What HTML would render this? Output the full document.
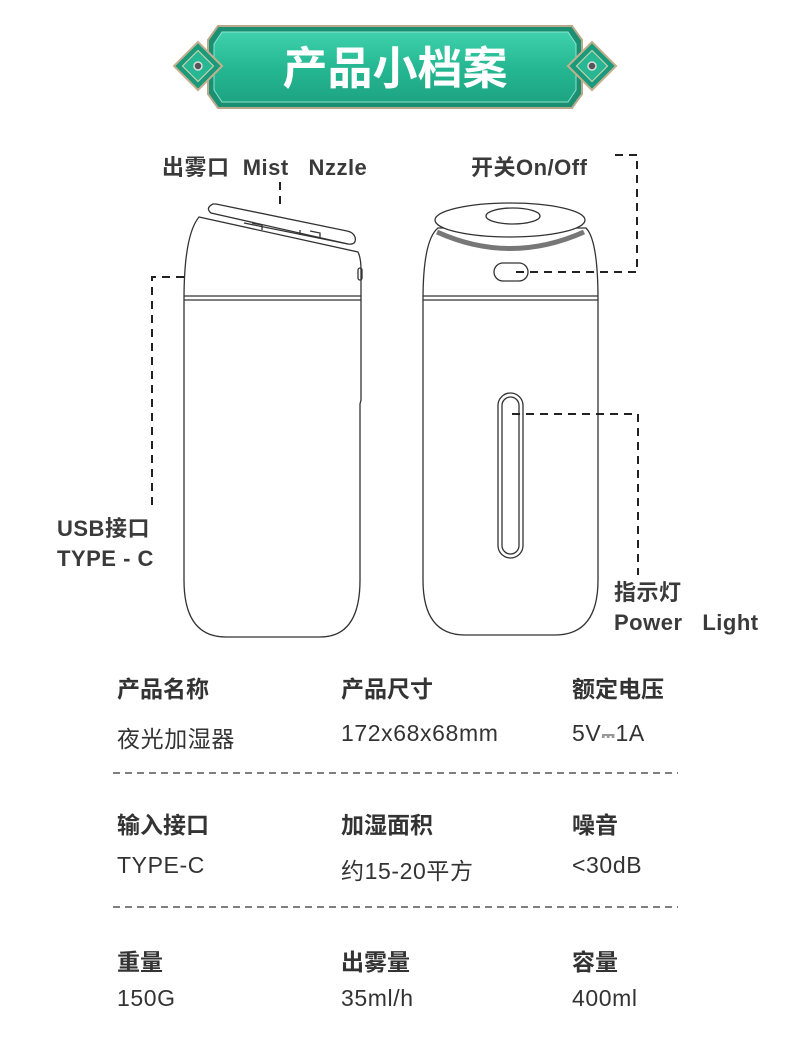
<!DOCTYPE html>
<html><head><meta charset="utf-8"><style>
body{margin:0;background:#fff;}
.wrap{position:relative;width:790px;height:1041px;overflow:hidden;font-family:"Liberation Sans","Noto Sans CJK SC",sans-serif;}
.t{position:absolute;color:#333;white-space:nowrap;}
.b{font-weight:bold;font-size:23px;}
.lab{font-weight:bold;font-size:22px;color:#3a3a3a;letter-spacing:0.5px;}
.v{font-size:23px;color:#333;letter-spacing:0.6px;}
</style></head><body><div class="wrap">
<svg width="790" height="1041" style="position:absolute;left:0;top:0">
<defs><linearGradient id="g" x1="0" y1="0" x2="0" y2="1"><stop offset="0" stop-color="#3fd1ad"/><stop offset="0.5" stop-color="#25b892"/><stop offset="1" stop-color="#1ea482"/></linearGradient></defs>
<path d="M218 26 H572 L582 40 V94 L572 108 H218 L208 94 V40 Z" fill="#1b8f72" stroke="#b9a98a" stroke-width="2"/>
<path d="M222 32 H568 L576 44 V90 L568 102 H222 L214 90 V44 Z" fill="url(#g)" stroke="#8fe3cd" stroke-width="1"/>
<g transform="translate(198,66) rotate(45)"><rect x="-17" y="-17" width="34" height="34" fill="#1a9a7a" stroke="#c4b08f" stroke-width="2"/><rect x="-11" y="-11" width="22" height="22" fill="#27b893" stroke="#e5d5b5" stroke-width="1"/></g>
<circle cx="198" cy="66" r="4" fill="#555" stroke="#ddd" stroke-width="1.5"/>
<g transform="translate(592,66) rotate(45)"><rect x="-17" y="-17" width="34" height="34" fill="#1a9a7a" stroke="#c4b08f" stroke-width="2"/><rect x="-11" y="-11" width="22" height="22" fill="#27b893" stroke="#e5d5b5" stroke-width="1"/></g>
<circle cx="592" cy="66" r="4" fill="#555" stroke="#ddd" stroke-width="1.5"/>
<text x="395" y="84" text-anchor="middle" font-family="Liberation Sans,Noto Sans CJK SC,sans-serif" font-size="45" font-weight="bold" fill="#fff">产品小档案</text>

<g fill="none" stroke="#333" stroke-width="1.3">
<path d="M199 217 L358 252 Q361 258 361 270 V400 L360 404 V580 Q360 637 320 637 H226 Q184 637 184 580 V300 Q184 235 199 217 Z" fill="#fff"/>
<line x1="184" y1="296" x2="361" y2="296"/>
<line x1="184" y1="300" x2="361" y2="300"/>
<rect x="358" y="268" width="4" height="12" rx="2"/>
<path d="M213 204 Q205 208 211 213 L348 244 Q357 245 355 237 Q353 232 347 231 L216 204 Z" fill="#fff"/>
<path d="M244 223 L348 244 M252 223 L262 225 V230 M300 230 V235 M310 231 L320 233 V237"/>
<path d="M438 228 H586 Q598 240 598 300 V580 Q598 635 555 635 H465 Q423 635 423 580 V300 Q423 240 438 228 Z" fill="#fff"/>
<line x1="423" y1="296" x2="598" y2="296"/>
<line x1="423" y1="300" x2="598" y2="300"/>
<path d="M437 232 Q510 265 584 232" stroke="#777" stroke-width="5"/>
<ellipse cx="510" cy="220" rx="75" ry="17" fill="#fff"/>
<ellipse cx="513" cy="216" rx="27" ry="8"/>
<rect x="494" y="263" width="34" height="18" rx="9"/>
<rect x="498" y="393" width="25" height="165" rx="12.5"/>
<rect x="502" y="397" width="17" height="157" rx="8.5"/>
</g>
<g fill="none" stroke="#222" stroke-width="2" stroke-dasharray="8,6">
<line x1="280" y1="182" x2="280" y2="208"/>
<polyline points="184,277 152,277 152,505"/>
<polyline points="615,155 637,155 637,272 512,272"/>
<polyline points="512,414 638,414 638,575"/>
</g>
<g stroke="#333" stroke-width="1.3" stroke-dasharray="7,5">
<line x1="113" y1="773" x2="678" y2="773"/>
<line x1="113" y1="907" x2="678" y2="907"/>
</g>
</svg>
<div class="t lab" style="left:162px;top:150px">出雾口&nbsp; Mist&nbsp;&nbsp; Nzzle</div>
<div class="t lab" style="left:471px;top:150px">开关On/Off</div>
<div class="t lab" style="left:57px;top:514px;line-height:30px">USB接口<br>TYPE - C</div>
<div class="t lab" style="left:614px;top:578px;line-height:30px">指示灯<br>Power&nbsp;&nbsp; Light</div>

<div class="t b" style="left:117px;top:670px">产品名称</div>
<div class="t b" style="left:341px;top:670px">产品尺寸</div>
<div class="t b" style="left:572px;top:670px">额定电压</div>
<div class="t v" style="left:117px;top:720px">夜光加湿器</div>
<div class="t v" style="left:341px;top:720px">172x68x68mm</div>
<div class="t v" style="left:572px;top:720px">5V<span style="font-size:17px">⎓</span>1A</div>

<div class="t b" style="left:117px;top:806px">输入接口</div>
<div class="t b" style="left:341px;top:806px">加湿面积</div>
<div class="t b" style="left:572px;top:806px">噪音</div>
<div class="t v" style="left:117px;top:852px">TYPE-C</div>
<div class="t v" style="left:341px;top:852px">约15-20平方</div>
<div class="t v" style="left:572px;top:852px">&lt;30dB</div>

<div class="t b" style="left:117px;top:943px">重量</div>
<div class="t b" style="left:341px;top:943px">出雾量</div>
<div class="t b" style="left:572px;top:943px">容量</div>
<div class="t v" style="left:117px;top:985px">150G</div>
<div class="t v" style="left:341px;top:985px">35ml/h</div>
<div class="t v" style="left:572px;top:985px">400ml</div>
</div></body></html>
